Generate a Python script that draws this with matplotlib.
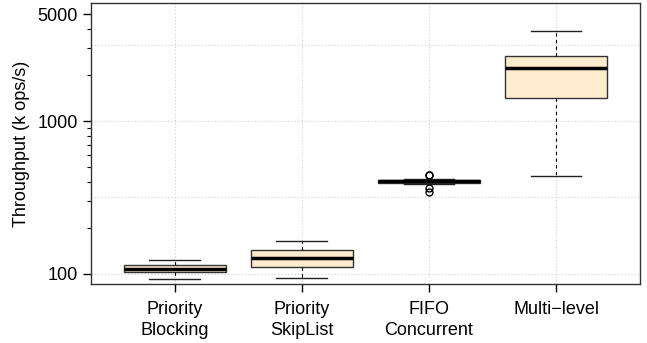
import numpy as np
import matplotlib
matplotlib.use('Agg')
import matplotlib.pyplot as plt
from matplotlib.ticker import FixedLocator, NullFormatter

plt.rcParams['font.family'] = ['Liberation Sans', 'DejaVu Sans']

# box statistics (k ops/s)
labels = ['Priority\nBlocking', 'Priority\nSkipList', 'FIFO\nConcurrent', 'Multi\u2212level']
whislo = [92.8, 93.7, 386, 439]
q1 = [102.6, 111, 393, 1420]
med = [107.8, 127, 403, 2210]
q3 = [114, 143.5, 413, 2660]
whishi = [122.9, 163.6, 420, 3870]
fliers = [[], [], [446, 443, 363, 343], []]

stats = []
for i in range(len(labels)):
    stats.append(dict(whislo=whislo[i], q1=q1[i], med=med[i], q3=q3[i],
                      whishi=whishi[i], fliers=fliers[i]))

fig = plt.figure(figsize=(6.47, 3.43), dpi=100)
ax = fig.add_axes([0.1406, 0.172, 0.8484, 0.819])

ax.set_yscale('log')
ax.set_ylim(86, 5900)
ax.set_xlim(0.34, 4.66)

# grid first so boxes sit on top
for x in range(1, 5):
    ax.axvline(x, color='#cfcfcf', lw=0.8, ls=(0, (1, 2)), zorder=0)
for y in [100, 10**2.5, 1000, 10**3.5]:
    ax.axhline(y, color='#cfcfcf', lw=0.8, ls=(0, (1, 2)), zorder=0)

ax.bxp(stats, positions=range(1, 5), widths=0.8, patch_artist=True,
       boxprops=dict(facecolor='#ffebcd', edgecolor='#333333', lw=1),
       medianprops=dict(color='black', lw=2.5),
       whiskerprops=dict(color='black', lw=0.8, ls=(0, (3, 3))),
       capprops=dict(color='#222222', lw=1),
       capwidths=0.4,
       flierprops=dict(marker='o', markerfacecolor='none', markeredgecolor='black',
                       markersize=5, markeredgewidth=1))

ax.set_xticks(range(1, 5))
ax.set_xticklabels(labels, fontsize=13, linespacing=1.35)
ax.tick_params(axis='x', length=6, width=1, pad=6)

ax.yaxis.set_major_locator(FixedLocator([100, 1000, 5000]))
ax.set_yticklabels(['100', '1000', '5000'])
ax.yaxis.set_minor_locator(FixedLocator([200, 300, 400, 500, 600, 700, 800, 900,
                                         2000, 3000, 4000]))
ax.yaxis.set_minor_formatter(NullFormatter())
ax.tick_params(axis='y', which='major', length=5.5, width=1, labelsize=13, pad=4)
ax.tick_params(axis='y', which='minor', length=3, width=0.8)

ax.set_ylabel('Throughput (k ops/s)', fontsize=13, labelpad=5)

for s in ax.spines.values():
    s.set_color('#333333')
    s.set_linewidth(1)

plt.savefig('out.png', dpi=100)
